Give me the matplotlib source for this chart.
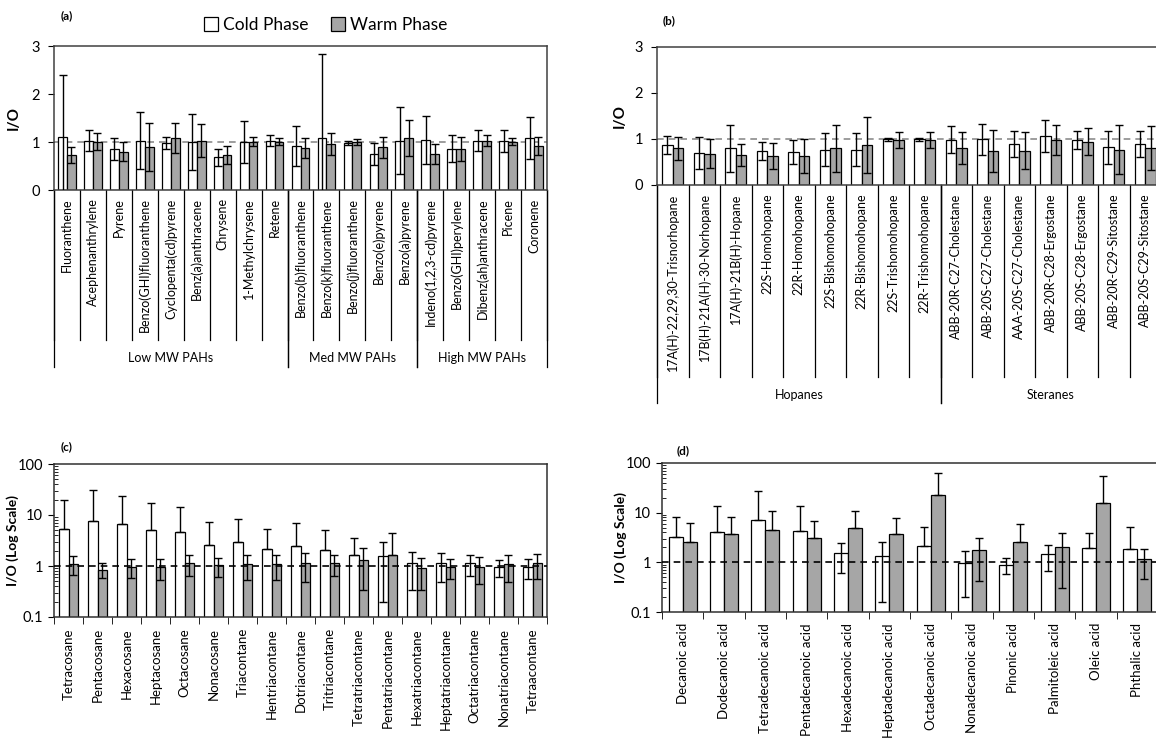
import numpy as np
import matplotlib
matplotlib.use('Agg')
import matplotlib.pyplot as plt
from matplotlib.patches import Patch

plt.rcParams['font.family'] = ['Lato', 'DejaVu Sans']

# ---- data ----
# (a) PAHs
pah_names = ['Fluoranthene', 'Acephenanthrylene', 'Pyrene', 'Benzo(GHI)fluoranthene',
             'Cyclopenta(cd)pyrene', 'Benz(a)anthracene', 'Chrysene', '1-Methylchrysene',
             'Retene', 'Benzo(b)fluoranthene', 'Benzo(k)fluoranthene', 'Benzo(j)fluoranthene',
             'Benzo(e)pyrene', 'Benzo(a)pyrene', 'Indeno(1,2,3-cd)pyrene', 'Benzo(GHI)perylene',
             'Dibenz(ah)anthracene', 'Picene', 'Coronene']
pah_cold = [1.11, 1.03, 0.85, 1.03, 0.98, 1.00, 0.68, 1.00, 1.03, 0.92, 1.08, 0.98, 0.75, 1.03, 1.05, 0.86, 1.03, 1.03, 1.08]
pah_cold_sd = [1.29, 0.21, 0.23, 0.59, 0.12, 0.58, 0.17, 0.44, 0.12, 0.42, 1.75, 0.04, 0.23, 0.69, 0.50, 0.28, 0.22, 0.23, 0.44]
pah_warm = [0.73, 1.01, 0.80, 0.89, 1.08, 1.03, 0.73, 1.01, 1.01, 0.87, 0.96, 1.00, 0.89, 1.08, 0.75, 0.86, 1.03, 1.01, 0.92]
pah_warm_sd = [0.16, 0.18, 0.19, 0.50, 0.31, 0.35, 0.19, 0.10, 0.07, 0.21, 0.23, 0.07, 0.22, 0.38, 0.21, 0.25, 0.12, 0.07, 0.19]
pah_groups = ['Low MW PAHs', 'Med MW PAHs', 'High MW PAHs']
pah_group_sizes = [9, 5, 5]

# (b) hopanes and steranes
hop_names = ['17A(H)-22,29,30-Trisnorhopane', '17B(H)-21A(H)-30-Norhopane', '17A(H)-21B(H)-Hopane',
             '22S-Homohopane', '22R-Homohopane', '22S-Bishomohopane', '22R-Bishomohopane',
             '22S-Trishomohopane', '22R-Trishomohopane', 'ABB-20R-C27-Cholestane',
             'ABB-20S-C27-Cholestane', 'AAA-20S-C27-Cholestane', 'ABB-20R-C28-Ergostane',
             'ABB-20S-C28-Ergostane', 'ABB-20R-C29-Sitostane', 'ABB-20S-C29-Sitostane']
hop_cold = [0.87, 0.70, 0.80, 0.74, 0.72, 0.77, 0.77, 0.99, 0.99, 0.98, 0.99, 0.89, 1.06, 0.98, 0.82, 0.89]
hop_cold_sd = [0.19, 0.35, 0.51, 0.20, 0.26, 0.35, 0.35, 0.04, 0.04, 0.29, 0.33, 0.29, 0.35, 0.20, 0.36, 0.29]
hop_warm = [0.80, 0.68, 0.65, 0.63, 0.63, 0.80, 0.87, 0.98, 0.98, 0.80, 0.74, 0.74, 0.98, 0.94, 0.77, 0.80]
hop_warm_sd = [0.25, 0.31, 0.24, 0.29, 0.36, 0.51, 0.61, 0.18, 0.18, 0.34, 0.45, 0.40, 0.32, 0.30, 0.54, 0.47]
hop_groups = ['Hopanes', 'Steranes']
hop_group_sizes = [9, 7]

# (c) alkanes
alk_names = ['Tetracosane', 'Pentacosane', 'Hexacosane', 'Heptacosane', 'Octacosane', 'Nonacosane',
             'Triacontane', 'Hentriacontane', 'Dotriacontane', 'Tritriacontane', 'Tetratriacontane',
             'Pentatriacontane', 'Hexatriacontane', 'Heptatriacontane', 'Octatriacontane',
             'Nonatriacontane', 'Tetraacontane']
alk_cold = [5.3, 7.5, 6.6, 5.07, 4.57, 2.6, 3.0, 2.14, 2.5, 2.04, 1.62, 1.55, 1.13, 1.13, 1.13, 0.97, 0.97]
alk_cold_sd = [14.0, 22.9, 16.9, 12.2, 10.1, 4.6, 5.4, 3.16, 4.4, 3.03, 1.96, 1.35, 0.79, 0.65, 0.50, 0.35, 0.42]
alk_warm = [1.11, 0.85, 0.97, 0.97, 1.13, 1.03, 1.08, 1.08, 1.13, 1.13, 1.29, 1.62, 0.90, 0.97, 0.97, 1.08, 1.13]
alk_warm_sd = [0.43, 0.28, 0.38, 0.43, 0.49, 0.43, 0.54, 0.54, 0.65, 0.49, 0.95, 2.74, 0.56, 0.42, 0.52, 0.60, 0.57]

# (d) acids
acid_names = ['Decanoic acid', 'Dodecanoic acid', 'Tetradecanoic acid', 'Pentadecanoic acid',
              'Hexadecanoic acid', 'Heptadecanoic acid', 'Octadecanoic acid', 'Nonadecanoic acid',
              'Pinonic acid', 'Palmitoleic acid', 'Oleic acid', 'Phthalic acid']
acid_cold = [3.29, 4.14, 7.24, 4.34, 1.52, 1.36, 2.17, 0.95, 0.90, 1.47, 1.97, 1.83]
acid_cold_sd = [4.76, 9.26, 20.5, 9.06, 0.92, 1.2, 3.03, 0.75, 0.33, 0.8, 1.98, 3.4]
acid_warm = [2.53, 3.72, 4.48, 3.04, 4.84, 3.66, 22.7, 1.77, 2.53, 2.07, 15.7, 1.17]
acid_warm_sd = [3.57, 4.33, 6.52, 3.66, 6.16, 4.04, 39.2, 1.35, 3.37, 1.77, 39.0, 0.70]

COLD_C = 'white'
WARM_C = '#a6a6a6'
W, H = 1156, 745


def px_rect(x0, y0, x1, y1):
    # pixel box (top-left origin) to figure fraction
    return [x0 / W, 1 - y1 / H, (x1 - x0) / W, (y1 - y0) / H]


def draw_bars(ax, cold, cold_sd, warm, warm_sd, log=False):
    x = np.arange(len(cold))
    cold = np.array(cold)
    warm = np.array(warm)
    csd = np.array(cold_sd)
    wsd = np.array(warm_sd)
    bw = 0.34
    ax.bar(x - bw / 2, cold, bw, color=COLD_C, edgecolor='black', linewidth=0.9, zorder=2)
    ax.bar(x + bw / 2, warm, bw, color=WARM_C, edgecolor='black', linewidth=0.9, zorder=2)
    if log:
        # lower bar not drawn when it would go below zero
        c_lo = np.where(cold - csd > 0, csd, 0)
        w_lo = np.where(warm - wsd > 0, wsd, 0)
    else:
        c_lo, w_lo = csd, wsd
    ax.errorbar(x - bw / 2, cold, yerr=[c_lo, csd], fmt='none', ecolor='black',
                elinewidth=1.0, capsize=3, capthick=1.0, zorder=3)
    ax.errorbar(x + bw / 2, warm, yerr=[w_lo, wsd], fmt='none', ecolor='black',
                elinewidth=1.0, capsize=3, capthick=1.0, zorder=3)
    return x


def group_axis(ax, names, sizes, groups, tick_len, group_len, label_y, fs):
    n = len(names)
    tr = ax.get_xaxis_transform()
    ax.set_xticks(np.arange(n))
    ax.set_xticklabels(names, rotation=90, fontsize=fs, va='top', ha='center')
    ax.tick_params(axis='x', length=0, pad=6)
    for b in np.arange(n + 1) - 0.5:
        ax.plot([b, b], [0, -tick_len], transform=tr, color='black', lw=0.9, clip_on=False)
    start = 0
    for g, s in zip(groups, sizes):
        for b in (start - 0.5, start + s - 0.5):
            ax.plot([b, b], [0, -group_len], transform=tr, color='black', lw=0.9, clip_on=False)
        ax.text(start + s / 2 - 0.5, -label_y, g, transform=tr, ha='center', va='center', fontsize=fs)
        start += s


def style_linear(ax, ref_color):
    ax.set_ylim(0, 3)
    ax.set_yticks([0, 1, 2, 3])
    ax.tick_params(axis='y', direction='out', length=4, labelsize=10.5, pad=6)
    ax.axhline(1, color=ref_color, ls=(0, (4, 3)), lw=1.2, zorder=1)
    for s in ax.spines.values():
        s.set_color('#404040')
        s.set_linewidth(1.1)


def style_log(ax):
    ax.set_yscale('log')
    ax.set_ylim(0.1, 100)
    ax.set_yticks([0.1, 1, 10, 100])
    ax.set_yticklabels(['0.1', '1', '10', '100'])
    ax.tick_params(axis='y', which='major', direction='out', length=4, labelsize=10.5, pad=4)
    ax.tick_params(axis='y', which='minor', direction='in', length=3)
    ax.axhline(1, color='black', ls=(0, (4, 3)), lw=1.2, zorder=4)
    for s in ax.spines.values():
        s.set_color('#303030')
        s.set_linewidth(1.1)


fig = plt.figure(figsize=(W / 100, H / 100), dpi=100)

# ---- (a) ----
ax_a = fig.add_axes(px_rect(54, 46, 547, 190))
draw_bars(ax_a, pah_cold, pah_cold_sd, pah_warm, pah_warm_sd)
ax_a.set_xlim(-0.5, len(pah_names) - 0.5)
style_linear(ax_a, '#8c8c8c')
group_axis(ax_a, pah_names, pah_group_sizes, pah_groups, 150 / 144, 177 / 144, 168 / 144, 9)
ax_a.set_ylabel('I/O', fontsize=11, fontweight='bold')
ax_a.yaxis.set_label_coords(-0.068, 0.5)

# ---- (b) ----
ax_b = fig.add_axes(px_rect(657, 46.7, 1161, 185))
draw_bars(ax_b, hop_cold, hop_cold_sd, hop_warm, hop_warm_sd)
ax_b.set_xlim(-0.5, len(hop_names) - 0.5)
style_linear(ax_b, '#8c8c8c')
group_axis(ax_b, hop_names, hop_group_sizes, hop_groups, 192 / 138.3, 218 / 138.3, 210 / 138.3, 9)
ax_b.set_ylabel('I/O', fontsize=11, fontweight='bold')
ax_b.yaxis.set_label_coords(-0.06, 0.5)

# ---- (c) ----
ax_c = fig.add_axes(px_rect(54, 464, 547, 617))
style_log(ax_c)
xc = draw_bars(ax_c, alk_cold, alk_cold_sd, alk_warm, alk_warm_sd, log=True)
ax_c.set_xlim(-0.5, len(alk_names) - 0.5)
ax_c.set_xticks(xc)
ax_c.set_xticklabels(alk_names, rotation=90, fontsize=9.5, va='top', ha='center')
ax_c.set_xticks(np.arange(len(alk_names) + 1) - 0.5, minor=True)
ax_c.tick_params(axis='x', which='major', length=0, pad=8)
ax_c.tick_params(axis='x', which='minor', direction='out', length=5)
ax_c.set_ylabel('I/O (Log Scale)', fontsize=10, fontweight='bold')
ax_c.yaxis.set_label_coords(-0.07, 0.5)

# ---- (d) ----
ax_d = fig.add_axes(px_rect(662, 463, 1158, 612))
style_log(ax_d)
xd = draw_bars(ax_d, acid_cold, acid_cold_sd, acid_warm, acid_warm_sd, log=True)
ax_d.set_xlim(-0.5, len(acid_names) - 0.5)
ax_d.set_xticks(xd)
ax_d.set_xticklabels(acid_names, rotation=90, fontsize=9.5, va='top', ha='center')
ax_d.set_xticks(np.arange(len(acid_names) + 1) - 0.5, minor=True)
ax_d.tick_params(axis='x', which='major', length=0, pad=8)
ax_d.tick_params(axis='x', which='minor', direction='out', length=5)
ax_d.set_ylabel('I/O (Log Scale)', fontsize=10, fontweight='bold')
ax_d.yaxis.set_label_coords(-0.07, 0.5)

# panel tags
for tag, px, py in [('(a)', 67, 16), ('(b)', 669, 21), ('(c)', 67, 447), ('(d)', 683, 451)]:
    fig.text(px / W, 1 - py / H, tag, fontsize=8.5, fontweight='bold', ha='center', va='center')

# legend
handles = [Patch(facecolor=COLD_C, edgecolor='black', linewidth=0.9),
           Patch(facecolor=WARM_C, edgecolor='black', linewidth=0.9)]
fig.legend(handles, ['Cold Phase', 'Warm Phase'], loc='center', ncol=2, frameon=False,
           bbox_to_anchor=(326 / W, 1 - 25 / H), fontsize=12.5, handlelength=0.8,
           handleheight=0.8, handletextpad=0.3, columnspacing=1.3)

fig.savefig('out.png', dpi=100)
